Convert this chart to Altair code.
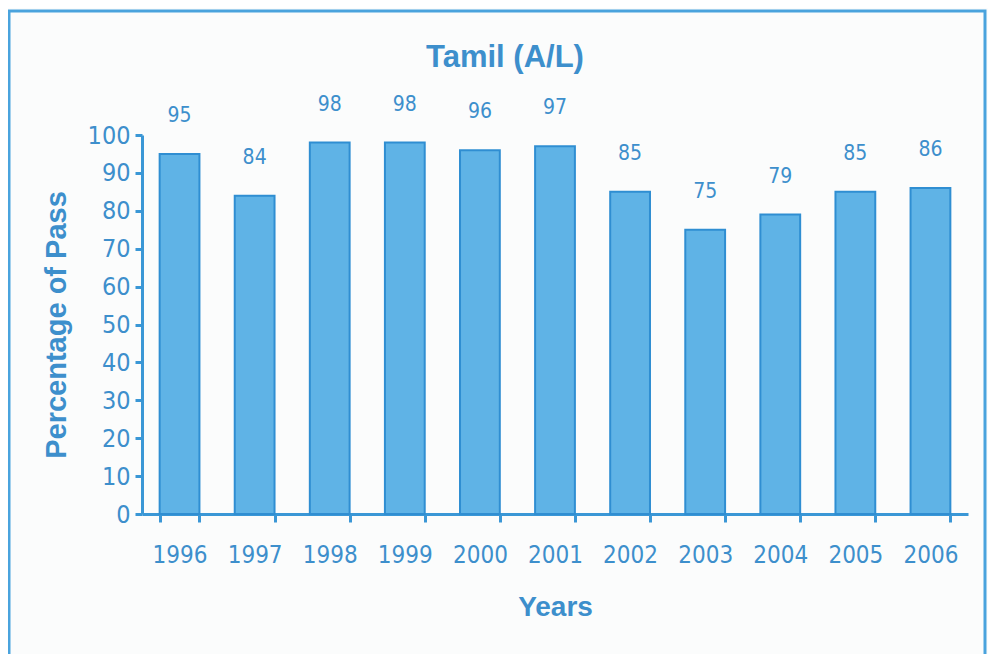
import altair as alt
import pandas as pd

years = ["1996", "1997", "1998", "1999", "2000", "2001", "2002", "2003", "2004", "2005", "2006"]
passes = [95, 84, 98, 98, 96, 97, 85, 75, 79, 85, 86]
y_ticks = [0, 10, 20, 30, 40, 50, 60, 70, 80, 90, 100]

df = pd.DataFrame({"Year": years, "Pass": passes})

BLUE = "#3a97d6"
TEXT = "#3d8fcc"
NARROW = "'Liberation Sans Narrow', 'DejaVu Sans Condensed', 'Liberation Sans', sans-serif"
BOLD = "'Liberation Sans', Arial, sans-serif"

W, H = 826, 379

x_enc = alt.X("Year:N", sort=years,
              scale=alt.Scale(paddingInner=0.47, paddingOuter=0.235),
              axis=alt.Axis(title="Years", labelAngle=0, tickBand="extent",
                            labelFontSize=24, labelFont=NARROW, labelColor=TEXT,
                            labelPadding=21, tickSize=8, tickWidth=3, tickColor=BLUE,
                            domainColor=BLUE, domainWidth=3,
                            titleFontSize=28, titleFont=BOLD, titleFontWeight="bold",
                            titleColor=TEXT, titlePadding=26))
y_enc = alt.Y("Pass:Q", scale=alt.Scale(domain=[0, 100], nice=False),
              axis=alt.Axis(title="Percentage of Pass", values=y_ticks, grid=False,
                            labelOverlap=False,
                            labelFontSize=25, labelFont=NARROW, labelColor=TEXT,
                            labelPadding=5, tickSize=7, tickWidth=3, tickColor=BLUE,
                            domainColor=BLUE, domainWidth=3,
                            titleFontSize=29, titleFont=BOLD, titleFontWeight="bold",
                            titleColor=TEXT, titlePadding=16))

bars = alt.Chart(df).mark_bar(color="#5fb3e6", stroke="#2f8ed2", strokeWidth=2).encode(
    x=x_enc, y=y_enc)

labels = alt.Chart(df).mark_text(fontSize=21, font=NARROW, color=TEXT, dy=-38,
                                 baseline="middle").encode(
    x=x_enc, y=y_enc, text="Pass:Q")

frame = alt.Chart(alt.Data(values=[{"a": 1}])).mark_rect(
    fill=None, stroke="#4aa3dd", strokeWidth=3).encode(
    x=alt.value(-133), x2=alt.value(843), y=alt.value(-124), y2=alt.value(525))

title = alt.Chart(alt.Data(values=[{"t": "Tamil (A/L)"}])).mark_text(
    fontSize=31, font=BOLD, fontWeight="bold", color=TEXT,
    baseline="middle", align="center").encode(
    x=alt.value(363), y=alt.value(-77), text="t:N")

chart = alt.layer(frame, bars, labels, title).properties(
    width=W, height=H,
    autosize=alt.AutoSizeParams(type="none"),
    padding={"left": 134, "top": 127, "right": 20, "bottom": 140},
    background="#fbfcfc",
).configure_view(stroke=None)

chart.save("out.html", embed_options={"renderer": "svg", "actions": False})
